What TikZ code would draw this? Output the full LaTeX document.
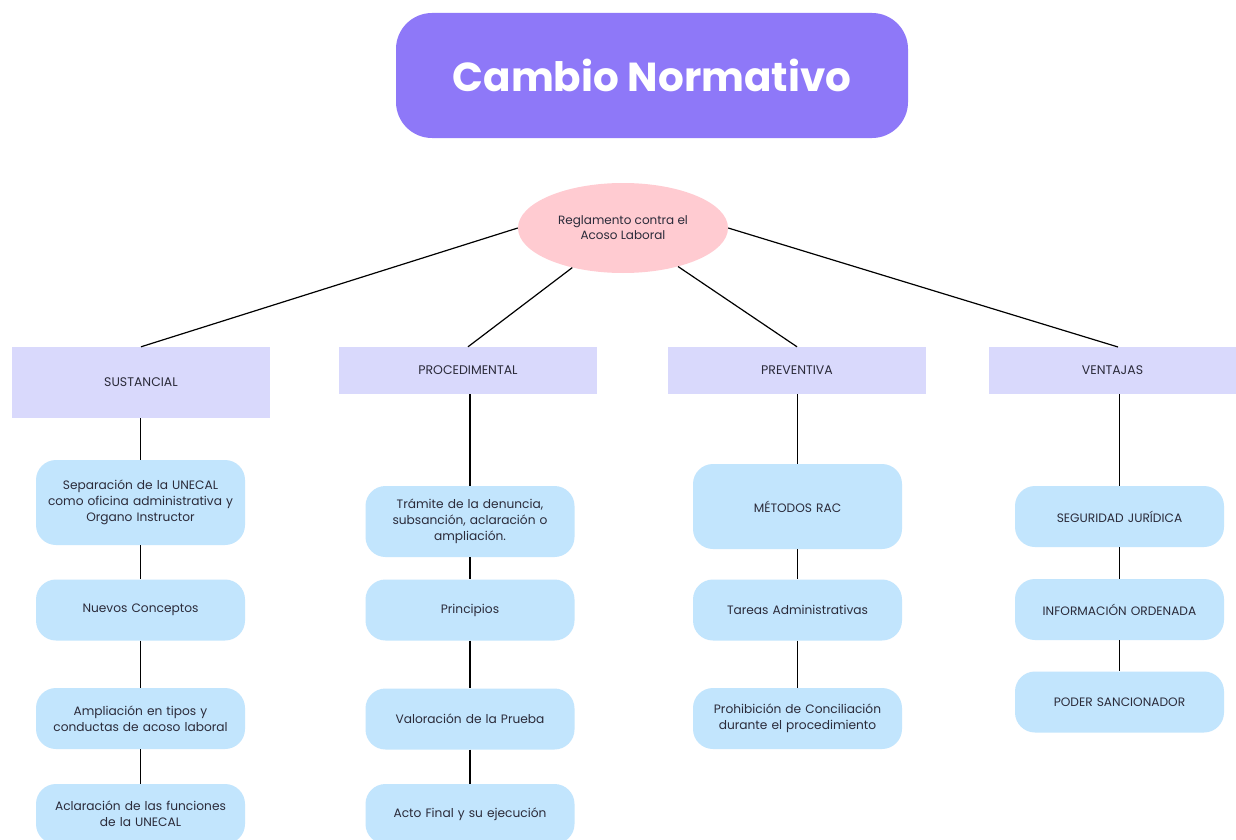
\documentclass[tikz,border=0pt]{standalone}
\usepackage{fontspec}
\setmainfont{Poppins}
\usetikzlibrary{shapes.geometric}
\definecolor{titlefill}{HTML}{8E78F8}
\definecolor{ellfill}{HTML}{FFCBD1}
\definecolor{catfill}{HTML}{D9D9FC}
\definecolor{itemfill}{HTML}{C2E5FD}
\definecolor{txt}{HTML}{2B2B3A}
\begin{document}
\begin{tikzpicture}[x=1pt,y=-1pt,
  titlebox/.style={fill=titlefill, rounded corners=36pt, minimum width=512pt, minimum height=125pt, text=white, font=\fontsize{40.5}{44}\selectfont\bfseries},
  ellnode/.style={ellipse, fill=ellfill, minimum width=210pt, minimum height=90pt, inner sep=0pt, text=txt, align=center, font=\fontsize{12}{15}\selectfont},
  catbox/.style={fill=catfill, minimum width=258pt, inner sep=0pt, text=txt, font=\fontsize{12.5}{14}\selectfont},
  itembox/.style={fill=itemfill, rounded corners=20pt, minimum width=209pt, inner sep=0pt, text width=205pt, align=center, text=txt, font=\fontsize{12.2}{16}\selectfont},
  link/.style={draw=black, line width=1.2pt}
]
\useasboundingbox (0,0) rectangle (1236,840);
\fill[white] (0,0) rectangle (1236,840);
\begin{scope}
\clip (0,0) rectangle (1236,840);
\node[titlebox] (title) at (652,75.5) {Cambio Normativo};
\node[ellnode] (reg) at (623,228) {Reglamento contra el\\Acoso Laboral};

\node[catbox, minimum height=71pt] (sus) at (141,382.5) {SUSTANCIAL};
\node[catbox, minimum height=47pt] (pro) at (468,370.5) {PROCEDIMENTAL};
\node[catbox, minimum height=47pt] (pre) at (797,370.5) {PREVENTIVA};
\node[catbox, minimum height=47pt, minimum width=247pt] (ven) at (1112.5,370.5) {VENTAJAS};

\draw[link] (reg.west) -- (sus.north);
\draw[link] (reg.218) -- (pro.north);
\draw[link] (reg.325) -- (pre.north);
\draw[link] (reg.east) -- (1118,347) coordinate (venTop);

% Sustancial column
\node[itembox, minimum height=85pt] (s1) at (140.5,502.5) {Separación de la UNECAL\\como oficina administrativa y\\Organo Instructor};
\node[itembox, minimum height=61pt] (s2) at (140.5,610) {Nuevos Conceptos};
\node[itembox, minimum height=61pt] (s3) at (140.5,718.5) {Ampliación en tipos y\\conductas de acoso laboral};
\node[itembox, minimum height=60pt] (s4) at (140.5,814) {Aclaración de las funciones\\de la UNECAL};
% Procedimental column
\node[itembox, minimum height=71pt] (p1) at (470,521.5) {Trámite de la denuncia,\\subsanción, aclaración o\\ampliación.};
\node[itembox, minimum height=61pt] (p2) at (470,610) {Principios};
\node[itembox, minimum height=61pt] (p3) at (470,719) {Valoración de la Prueba};
\node[itembox, minimum height=60pt] (p4) at (470,814) {Acto Final y su ejecución};
% Preventiva column
\node[itembox, minimum height=85pt] (v1) at (797.5,506.5) {MÉTODOS RAC};
\node[itembox, minimum height=61pt] (v2) at (797.5,610) {Tareas Administrativas};
\node[itembox, minimum height=61pt] (v3) at (797.5,718.5) {Prohibición de Conciliación\\durante el procedimiento};
% Ventajas column
\node[itembox, minimum height=61pt] (w1) at (1119.5,516.5) {SEGURIDAD JURÍDICA};
\node[itembox, minimum height=61pt] (w2) at (1119.5,609.5) {INFORMACIÓN ORDENADA};
\node[itembox, minimum height=61pt] (w3) at (1119.5,702) {PODER SANCIONADOR};

\draw[link] (sus.south -| s1.north) -- (s1.north);
\draw[link] (s1) -- (s2);
\draw[link] (s2) -- (s3);
\draw[link] (s3) -- (s4);
\draw[link] (pro.south -| p1.north) -- (p1.north);
\draw[link] (p1) -- (p2);
\draw[link] (p2) -- (p3);
\draw[link] (p3) -- (p4);
\draw[link] (pre.south -| v1.north) -- (v1.north);
\draw[link] (v1) -- (v2);
\draw[link] (v2) -- (v3);
\draw[link] (ven.south -| w1.north) -- (w1.north);
\draw[link] (w1) -- (w2);
\draw[link] (w2) -- (w3);
\end{scope}
\end{tikzpicture}
\end{document}
